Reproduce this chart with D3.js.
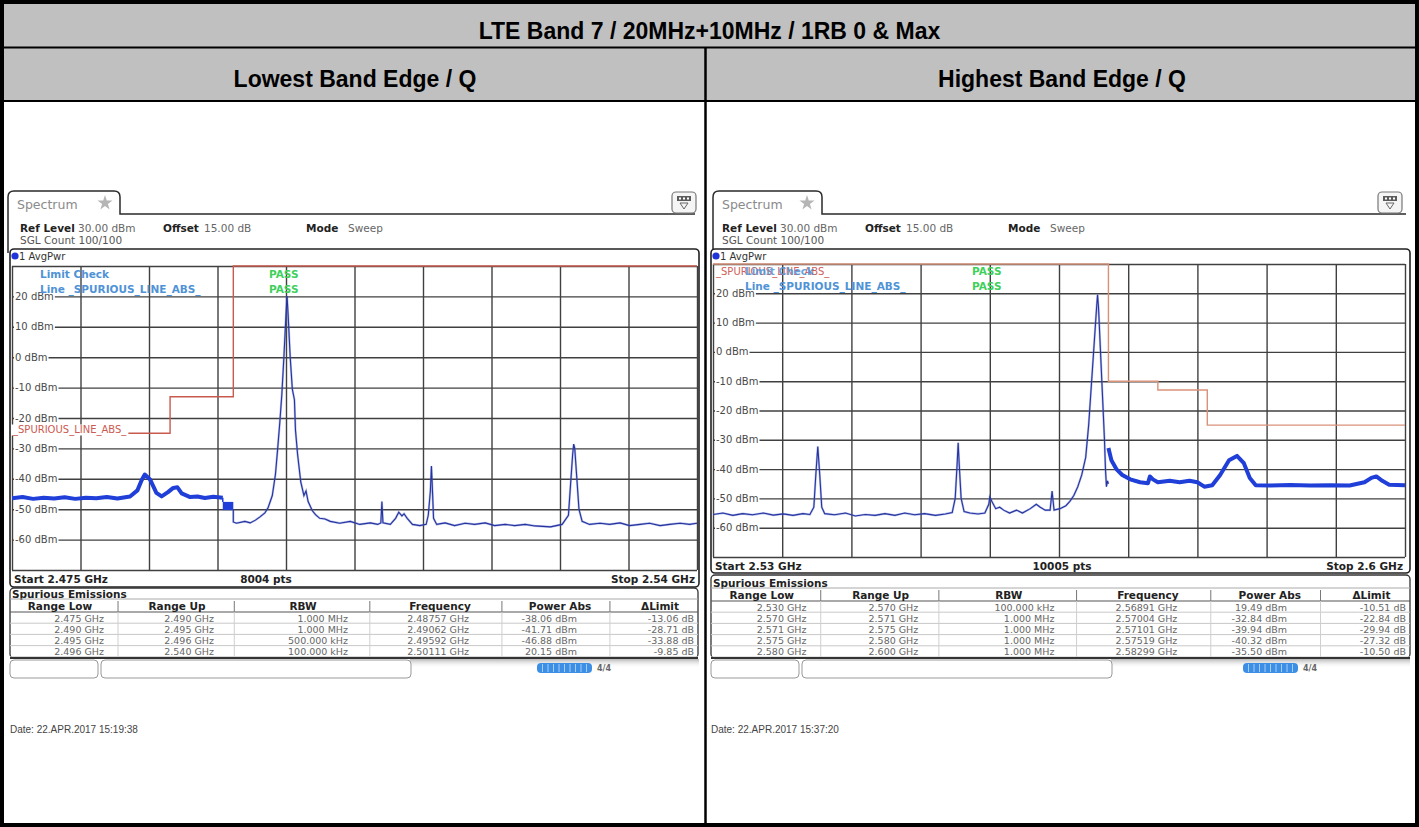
<!DOCTYPE html>
<html><head><meta charset="utf-8">
<script src="https://cdn.jsdelivr.net/npm/d3@7"></script>
<style>html,body{margin:0;padding:0;background:#fff;}svg{display:block;}</style>
</head><body>
<svg id="c" width="1419" height="827"></svg>
<script>
// ---------------- DATA ----------------
const TITLE = "LTE Band 7 / 20MHz+10MHz / 1RB 0 & Max";
const panelTitles = ["Lowest Band Edge / Q", "Highest Band Edge / Q"];
const yTickLabels = [20, 10, 0, -10, -20, -30, -40, -50, -60];
const refRange = [-70, 30];
const lowSpan = [2475, 2540];   // MHz
const hiSpan = [2530, 2600];    // MHz
const lowAxisLabels = ["Start 2.475 GHz", "8004 pts", "Stop 2.54 GHz"];
const hiAxisLabels = ["Start 2.53 GHz", "10005 pts", "Stop 2.6 GHz"];
const infoLine = ["Ref Level", "30.00 dBm", "Offset", "15.00 dB", "Mode", "Sweep"];
const countLine = "SGL Count 100/100";
const traceName = "1 AvgPwr";
const lowDate = "Date: 22.APR.2017  15:19:38";
const hiDate = "Date: 22.APR.2017  15:37:20";

// limit lines (MHz, dBm), step-after
const lowLimit = [[2475, -25], [2490, -13], [2496, 30], [2540, 30]];
const hiLimit = [[2530, 30], [2570, -10], [2575, -13], [2580, -25], [2600, -25]];

// trace: low band edge, 1 MHz RBW part
const lowWide = [[2475.0,-46.4],[2476.0,-46.0],[2477.0,-46.6],[2478.0,-46.2],[2479.0,-46.5],[2480.0,-46.1],[2481.0,-46.6],[2482.0,-46.2],[2483.0,-46.4],[2484.0,-46.0],[2485.0,-46.5],[2486.2,-45.8],[2486.9,-43.8],[2487.3,-40.5],[2487.6,-38.6],[2488.1,-40.2],[2488.7,-44.6],[2489.2,-45.8],[2489.8,-44.4],[2490.3,-43.0],[2490.7,-42.8],[2491.1,-44.8],[2491.9,-46.0],[2492.6,-45.8],[2493.3,-46.3],[2494.1,-45.9],[2495.0,-46.2]];
// 500 kHz RBW part: [MHz, high, low]
const lowMid = [[2495.0,-47.6,-50.3],[2496.0,-47.6,-50.3]];
// 100 kHz RBW part
const lowNarrow = [[2496.0,-50.0],[2496.0,-54.2],[2496.3,-54.6],[2497.1,-54.0],[2497.6,-54.5],[2498.1,-53.6],[2498.5,-52.6],[2499.0,-51.2],[2499.3,-49.5],[2499.7,-45.5],[2500.0,-38.5],[2500.2,-30.5],[2500.4,-22.0],[2500.6,-12.5],[2500.8,0.0],[2501.0,14.0],[2501.1,20.15],[2501.2,14.0],[2501.4,0.0],[2501.6,-10.5],[2501.8,-14.0],[2501.9,-24.0],[2502.1,-32.0],[2502.4,-41.0],[2502.7,-45.5],[2502.9,-44.0],[2503.1,-47.5],[2503.5,-50.5],[2503.8,-51.8],[2504.2,-53.0],[2504.7,-53.2],[2505.2,-54.0],[2506.1,-54.6],[2507.1,-54.0],[2508.0,-55.0],[2509.0,-54.5],[2509.7,-55.0],[2510.0,-54.5],[2510.1,-47.5],[2510.2,-54.5],[2510.9,-55.0],[2511.4,-53.0],[2511.7,-51.0],[2512.0,-52.2],[2512.2,-51.5],[2512.5,-53.0],[2513.0,-55.0],[2513.7,-55.4],[2514.3,-55.0],[2514.5,-52.0],[2514.7,-44.0],[2514.8,-35.8],[2514.9,-44.0],[2515.0,-53.0],[2515.3,-55.0],[2516.1,-54.5],[2517.0,-55.4],[2518.0,-54.6],[2518.9,-55.0],[2519.9,-54.5],[2520.8,-55.4],[2521.8,-55.0],[2522.7,-55.4],[2523.7,-55.0],[2524.6,-55.5],[2526.1,-55.8],[2527.2,-55.0],[2527.8,-52.0],[2528.0,-42.0],[2528.2,-32.0],[2528.3,-28.6],[2528.4,-30.0],[2528.6,-40.0],[2528.8,-50.0],[2529.1,-54.0],[2529.8,-55.0],[2530.8,-54.6],[2531.7,-55.0],[2532.7,-54.5],[2533.6,-55.4],[2534.6,-55.0],[2535.5,-54.6],[2536.5,-55.4],[2537.4,-55.0],[2538.4,-54.6],[2539.3,-55.0],[2540.0,-54.6]];

// trace: high band edge, 100 kHz RBW part
const hiNarrow = [[2530.0,-55.5],[2531.0,-55.0],[2532.0,-55.8],[2533.0,-55.2],[2534.0,-55.6],[2535.1,-55.0],[2536.1,-55.7],[2537.1,-55.3],[2538.1,-55.8],[2539.1,-55.2],[2539.8,-55.5],[2540.2,-53.0],[2540.4,-42.0],[2540.6,-32.3],[2540.8,-42.0],[2541.0,-53.0],[2541.3,-55.2],[2542.3,-55.6],[2543.4,-55.0],[2544.4,-56.0],[2545.4,-55.5],[2546.4,-55.8],[2547.4,-55.2],[2548.4,-55.8],[2549.4,-55.0],[2550.4,-55.6],[2551.4,-55.2],[2552.5,-55.8],[2553.5,-55.3],[2554.2,-54.8],[2554.5,-50.0],[2554.7,-38.0],[2554.8,-31.0],[2554.9,-38.0],[2555.1,-50.0],[2555.4,-54.5],[2556.0,-55.0],[2556.8,-55.3],[2557.5,-55.0],[2557.9,-52.0],[2558.0,-49.5],[2558.2,-51.0],[2558.6,-53.5],[2559.0,-53.0],[2559.4,-54.0],[2560.0,-55.0],[2560.7,-54.0],[2561.3,-55.0],[2562.1,-53.5],[2562.7,-52.0],[2563.1,-53.0],[2563.6,-54.0],[2564.1,-54.0],[2564.3,-47.5],[2564.5,-54.0],[2565.1,-53.5],[2565.7,-52.5],[2566.1,-51.0],[2566.5,-49.0],[2566.9,-46.0],[2567.3,-42.0],[2567.7,-36.0],[2568.0,-25.0],[2568.3,-10.0],[2568.6,5.0],[2568.8,15.0],[2568.9,19.49],[2569.0,15.0],[2569.2,0.0],[2569.4,-15.0],[2569.6,-30.0],[2569.7,-40.0],[2569.8,-46.0],[2569.9,-44.0],[2570.0,-45.0]];
// 1 MHz RBW part
const hiWide = [[2570.0,-32.8],[2570.3,-37.0],[2570.8,-40.0],[2571.4,-42.0],[2572.2,-43.5],[2573.2,-44.5],[2574.0,-44.8],[2574.2,-42.5],[2574.5,-43.5],[2575.0,-44.5],[2576.2,-44.0],[2577.2,-44.5],[2578.2,-44.0],[2579.0,-44.5],[2579.7,-46.0],[2580.5,-45.5],[2581.3,-42.0],[2582.2,-37.0],[2583.0,-35.5],[2583.7,-38.0],[2584.3,-43.0],[2584.9,-45.5],[2586.4,-45.6],[2588.4,-45.4],[2590.4,-45.6],[2592.4,-45.5],[2594.4,-45.6],[2595.9,-44.5],[2596.6,-43.0],[2597.1,-42.5],[2597.7,-44.0],[2598.4,-45.3],[2600.0,-45.5]];

// spurious emissions tables
const tableHeaders = ["Range Low", "Range Up", "RBW", "Frequency", "Power Abs", "\u0394Limit"];
const lowRangeLow = [2.475, 2.490, 2.495, 2.496];
const lowRangeUp = [2.490, 2.495, 2.496, 2.540];
const lowRBW = ["1.000 MHz", "1.000 MHz", "500.000 kHz", "100.000 kHz"];
const lowFreq = [2.48757, 2.49062, 2.49592, 2.50111];
const lowPower = [-38.06, -41.71, -46.88, 20.15];
const lowDelta = [-13.06, -28.71, -33.88, -9.85];
const hiRangeLow = [2.530, 2.570, 2.571, 2.575, 2.580];
const hiRangeUp = [2.570, 2.571, 2.575, 2.580, 2.600];
const hiRBW = ["100.000 kHz", "1.000 MHz", "1.000 MHz", "1.000 MHz", "1.000 MHz"];
const hiFreq = [2.56891, 2.57004, 2.57101, 2.57519, 2.58299];
const hiPower = [19.49, -32.84, -39.94, -40.32, -35.50];
const hiDelta = [-10.51, -22.84, -29.94, -27.32, -10.50];

// ---------------- DRAW ----------------
const W = 1419, H = 827;
const svg = d3.select("#c");
const INST = "'DejaVu Sans', Verdana, sans-serif";
const HDR = "'Liberation Sans', Arial, sans-serif";

svg.append("rect").attr("width", W).attr("height", H).attr("fill", "#fff");
svg.append("rect").attr("x", 0).attr("y", 0).attr("width", W).attr("height", 101).attr("fill", "#c0c0c0");
svg.append("text").attr("x", 709.5).attr("y", 31).attr("text-anchor", "middle")
  .attr("dominant-baseline", "central").style("font", `bold 23px ${HDR}`).attr("fill", "#000").text(TITLE);
panelTitles.forEach((t, i) => {
  svg.append("text").attr("x", i ? 1062 : 355).attr("y", 79).attr("text-anchor", "middle")
    .attr("dominant-baseline", "central").style("font", `bold 23px ${HDR}`).attr("fill", "#000").text(t);
});
svg.append("line").attr("x1", 0).attr("x2", W).attr("y1", 47.5).attr("y2", 47.5).attr("stroke", "#000").attr("stroke-width", 2);
svg.append("line").attr("x1", 0).attr("x2", W).attr("y1", 101).attr("y2", 101).attr("stroke", "#000").attr("stroke-width", 2);
svg.append("line").attr("x1", 705.5).attr("x2", 705.5).attr("y1", 47).attr("y2", H).attr("stroke", "#000").attr("stroke-width", 2.5);

const fmtG = v => v.toFixed(3) + " GHz";
const fmtF = v => v.toFixed(5) + " GHz";
const fmtP = v => v.toFixed(2) + " dBm";
const fmtD = v => v.toFixed(2) + " dB";

const panels = [
  { id: "L", ox: 0, span: lowSpan, axis: lowAxisLabels, date: lowDate, limit: lowLimit, limitColor: "#c85a4e",
    tab: [8, 120, 191], winY: 214, winX1: 699, icon: [672, 192], info: [20, 228, 240],
    box: [10, 249, 689, 338], grid: [12, 266, 697, 570], axisY: 579, ptsX: 266,
    spur: [10, 588, 688, 70], spurY: 594, tableY: 599, rowH: 11.2, bar: 660, progX: 537, dateY: 729,
    rows: lowRangeLow.map((v, i) => [fmtG(v), fmtG(lowRangeUp[i]), lowRBW[i], fmtF(lowFreq[i]), fmtP(lowPower[i]), fmtD(lowDelta[i])]),
    wide: lowWide, mid: lowMid, narrow: lowNarrow },
  { id: "R", ox: 705, span: hiSpan, axis: hiAxisLabels, date: hiDate, limit: hiLimit, limitColor: "#d9927a",
    tab: [713, 822, 191], winY: 214, winX1: 1410, icon: [1378, 192], info: [722, 228, 240],
    box: [711, 249, 699, 324], grid: [713, 264, 1405, 557], axisY: 566, ptsX: 1062,
    spur: [711, 575, 699, 83], spurY: 583, tableY: 588, rowH: 11.2, bar: 660, progX: 1243, dateY: 729,
    rows: hiRangeLow.map((v, i) => [fmtG(v), fmtG(hiRangeUp[i]), hiRBW[i], fmtF(hiFreq[i]), fmtP(hiPower[i]), fmtD(hiDelta[i])]),
    wide: hiWide, mid: null, narrow: hiNarrow }
];

function bgText(g, x, y, str, font, fill, anchor, bgPad) {
  const t = g.append("text").attr("x", x).attr("y", y).attr("dominant-baseline", "central")
    .attr("text-anchor", anchor || "start").style("font", font).attr("fill", fill).text(str);
  if (bgPad) {
    const b = t.node().getBBox();
    g.insert("rect", () => t.node()).attr("x", b.x - bgPad[0]).attr("y", b.y + bgPad[1])
      .attr("width", b.width + 2 * bgPad[0]).attr("height", b.height - bgPad[1]).attr("fill", "#fff");
  }
  return t;
}

panels.forEach(p => {
  const g = svg.append("g");
  const [gx0, gy0, gx1, gy1] = p.grid;
  const x = d3.scaleLinear().domain(p.span).range([gx0, gx1]);
  const y = d3.scaleLinear().domain(refRange).range([gy1, gy0]);

  // window frame + tab
  const [tx0, tx1, ty] = p.tab;
  g.append("path").attr("d", `M${tx0},${p.box[1] + 4} L${tx0},${ty + 6} Q${tx0},${ty} ${tx0 + 6},${ty} L${tx1 - 6},${ty} Q${tx1},${ty} ${tx1},${ty + 6} L${tx1},${p.winY} L${p.winX1 - 4},${p.winY}`)
    .attr("fill", "none").attr("stroke", "#2a2a2a").attr("stroke-width", 1.5);
  g.append("text").attr("x", tx0 + 9).attr("y", ty + 13).attr("dominant-baseline", "central")
    .style("font", `12.5px ${INST}`).attr("fill", "#8a8a8a").text("Spectrum");
  g.append("path").attr("d", d3.symbol(d3.symbolStar, 70)()).attr("transform", `translate(${tx1 - 15},${ty + 12})`).attr("fill", "#b5b5b5");

  // icon top right
  const [ix, iy] = p.icon;
  g.append("rect").attr("x", ix).attr("y", iy).attr("width", 24).attr("height", 21).attr("rx", 4)
    .attr("fill", "#f5f5f5").attr("stroke", "#777").attr("stroke-width", 1.2);
  g.append("rect").attr("x", ix + 5).attr("y", iy + 4).attr("width", 14).attr("height", 5).attr("fill", "#5a5a5a");
  [0, 1, 2].forEach(k => g.append("rect").attr("x", ix + 7 + k * 4).attr("y", iy + 5.5).attr("width", 2).attr("height", 2).attr("fill", "#fff"));
  g.append("path").attr("d", `M${ix + 8},${iy + 11} L${ix + 16},${iy + 11} L${ix + 12},${iy + 17} Z`).attr("fill", "none").attr("stroke", "#666");

  // info lines
  const [ifx, ify1, ify2] = p.info;
  const infoOff = [0, 58, 143, 184, 286, 328];
  infoLine.forEach((s, k) => {
    g.append("text").attr("x", ifx + infoOff[k]).attr("y", ify1).attr("dominant-baseline", "central")
      .style("font", `${k % 2 === 0 ? "bold " : ""}10.5px ${INST}`).attr("fill", k % 2 === 0 ? "#222" : "#666").text(s);
  });
  g.append("text").attr("x", ifx).attr("y", ify2).attr("dominant-baseline", "central")
    .style("font", `10.5px ${INST}`).attr("fill", "#555").text(countLine);

  // plot box
  const [bx, by, bw, bh] = p.box;
  g.append("rect").attr("x", bx).attr("y", by).attr("width", bw).attr("height", bh).attr("rx", 4).attr("fill", "#fff");

  // trace name row
  g.append("circle").attr("cx", bx + 5).attr("cy", by + 7).attr("r", 3.6).attr("fill", "#1f35d8");
  g.append("text").attr("x", bx + 9).attr("y", by + 7).attr("dominant-baseline", "central")
    .style("font", `10px ${INST}`).attr("fill", "#333").text(traceName);

  // grid via axes
  const xt = d3.range(11).map(i => p.span[0] + i * (p.span[1] - p.span[0]) / 10);
  const gxAxis = g.append("g").attr("transform", `translate(0,${gy1})`)
    .call(d3.axisBottom(x).tickValues(xt).tickSize(-(gy1 - gy0)).tickFormat(""));
  const gyAxis = g.append("g").attr("transform", `translate(${gx0},0)`)
    .call(d3.axisLeft(y).tickValues(d3.range(refRange[0], refRange[1] + 1, 10)).tickSize(-(gx1 - gx0)).tickFormat(""));
  [gxAxis, gyAxis].forEach(a => { a.select(".domain").remove(); a.selectAll("line").attr("stroke", "#404040").attr("stroke-width", 1.4); });

  // y labels with white background
  yTickLabels.forEach(v => bgText(g, gx0 + 3, y(v), `${v} dBm`, `10px ${INST}`, "#4a4a4a", "start", [1, 2]));

  // clip
  const cid = "clip" + p.id;
  g.append("clipPath").attr("id", cid).append("rect").attr("x", gx0).attr("y", gy0 - 1).attr("width", gx1 - gx0).attr("height", gy1 - gy0 + 1);
  const pl = g.append("g").attr("clip-path", `url(#${cid})`);

  // limit line
  const lim = d3.line().x(d => x(d[0])).y(d => y(d[1])).curve(d3.curveStepAfter);
  pl.append("path").attr("d", lim(p.limit)).attr("fill", "none").attr("stroke", p.limitColor).attr("stroke-width", 1.4);

  // traces
  const ln = d3.line().x(d => x(d[0])).y(d => y(d[1]));
  pl.append("path").attr("d", ln(p.wide)).attr("fill", "none").attr("stroke", "#1f3fd8").attr("stroke-width", 4).attr("stroke-linejoin", "round");
  if (p.mid) {
    const ar = d3.area().x(d => x(d[0])).y0(d => y(d[2])).y1(d => y(d[1]));
    pl.append("path").attr("d", ar(p.mid)).attr("fill", "#1f3fd8");
    pl.append("line").attr("x1", x(p.wide[p.wide.length - 1][0])).attr("x2", x(p.mid[0][0]))
      .attr("y1", y(p.wide[p.wide.length - 1][1])).attr("y2", y(p.mid[0][1])).attr("stroke", "#1f3fd8").attr("stroke-width", 1.5);
  }
  pl.append("path").attr("d", ln(p.narrow)).attr("fill", "none").attr("stroke", "#5b6fd0").attr("stroke-width", 2.2).attr("stroke-opacity", 0.45);
  pl.append("path").attr("d", ln(p.narrow)).attr("fill", "none").attr("stroke", "#26339e").attr("stroke-width", 1.1);

  // annotations
  const annFont = `bold 10.5px ${INST}`;
  if (p.id === "L") {
    g.append("text").attr("x", 40).attr("y", 274).attr("dominant-baseline", "central").style("font", annFont).attr("fill", "#4f93d6").text("Limit Check");
    g.append("text").attr("x", 40).attr("y", 289).attr("dominant-baseline", "central").style("font", annFont).attr("fill", "#4f93d6").text("Line _SPURIOUS_LINE_ABS_");
    g.append("text").attr("x", 269).attr("y", 274).attr("dominant-baseline", "central").style("font", annFont).attr("fill", "#3fcf5c").text("PASS");
    g.append("text").attr("x", 269).attr("y", 289).attr("dominant-baseline", "central").style("font", annFont).attr("fill", "#3fcf5c").text("PASS");
    bgText(g, 13, 429, "_SPURIOUS_LINE_ABS_", `10px ${INST}`, "#cc5a50", "start", [1, 1]);
  } else {
    g.append("text").attr("x", 716).attr("y", 271).attr("dominant-baseline", "central").style("font", `10px ${INST}`).attr("fill", "#d0605a").text("_SPURIOUS_LINE_ABS_");
    g.append("text").attr("x", 745).attr("y", 271).attr("dominant-baseline", "central").style("font", annFont).attr("fill", "#4f93d6").attr("fill-opacity", 0.85).text("Limit Check");
    g.append("text").attr("x", 745).attr("y", 286).attr("dominant-baseline", "central").style("font", annFont).attr("fill", "#4f93d6").text("Line _SPURIOUS_LINE_ABS_");
    g.append("text").attr("x", 972).attr("y", 271).attr("dominant-baseline", "central").style("font", annFont).attr("fill", "#3fcf5c").text("PASS");
    g.append("text").attr("x", 972).attr("y", 286).attr("dominant-baseline", "central").style("font", annFont).attr("fill", "#3fcf5c").text("PASS");
  }

  // box border on top
  g.append("rect").attr("x", bx).attr("y", by).attr("width", bw).attr("height", bh).attr("rx", 4)
    .attr("fill", "none").attr("stroke", "#222").attr("stroke-width", 1.6);

  // start / pts / stop
  const axFont = `bold 10.5px ${INST}`;
  g.append("text").attr("x", gx0 + 2).attr("y", p.axisY).attr("dominant-baseline", "central").style("font", axFont).attr("fill", "#222").text(p.axis[0]);
  g.append("text").attr("x", p.ptsX).attr("y", p.axisY).attr("text-anchor", "middle").attr("dominant-baseline", "central").style("font", axFont).attr("fill", "#222").text(p.axis[1]);
  g.append("text").attr("x", gx1 - 2).attr("y", p.axisY).attr("text-anchor", "end").attr("dominant-baseline", "central").style("font", axFont).attr("fill", "#222").text(p.axis[2]);

  // spurious emissions section
  const [sx, sy, sw, sh] = p.spur;
  g.append("rect").attr("x", sx).attr("y", sy).attr("width", sw).attr("height", sh).attr("rx", 4).attr("fill", "#fff").attr("stroke", "#333").attr("stroke-width", 1.3);
  g.append("text").attr("x", sx + 2).attr("y", p.spurY).attr("dominant-baseline", "central").style("font", `bold 10.5px ${INST}`).attr("fill", "#222").text("Spurious Emissions");

  const sep = [0, .157, .326, .523, .715, .872, 1].map(f => sx + f * sw);
  const hc = [.0727, .2427, .4259, .625, .7994, .9448].map(f => sx + f * sw);
  const ve = [.1366, .2965, .4913, .6672, .8241, .9942].map(f => sx + f * sw);
  const ty0 = p.tableY, rh = p.rowH;
  g.append("line").attr("x1", sx).attr("x2", sx + sw).attr("y1", ty0).attr("y2", ty0).attr("stroke", "#aaa");
  g.append("line").attr("x1", sx).attr("x2", sx + sw).attr("y1", ty0 + 13).attr("y2", ty0 + 13).attr("stroke", "#555").attr("stroke-width", 1.2);
  sep.slice(1, 6).forEach(sxp => g.append("line").attr("x1", sxp).attr("x2", sxp).attr("y1", ty0 + 2).attr("y2", ty0 + 13).attr("stroke", "#777"));
  tableHeaders.forEach((h, k) => g.append("text").attr("x", hc[k]).attr("y", ty0 + 7).attr("text-anchor", "middle")
    .attr("dominant-baseline", "central").style("font", `bold 10.5px ${INST}`).attr("fill", "#222").text(h));
  p.rows.forEach((r, i) => {
    const ry = ty0 + 13 + i * rh;
    g.append("line").attr("x1", sx).attr("x2", sx + sw).attr("y1", ry + rh).attr("y2", ry + rh).attr("stroke", "#c8c8c8");
    sep.slice(1, 6).forEach(sxp => g.append("line").attr("x1", sxp).attr("x2", sxp).attr("y1", ry).attr("y2", ry + rh).attr("stroke", "#cfcfcf"));
    r.forEach((c, k) => g.append("text").attr("x", ve[k]).attr("y", ry + rh / 2 + 0.5).attr("text-anchor", "end")
      .attr("dominant-baseline", "central").style("font", `9.5px ${INST}`).attr("fill", "#666").text(c));
  });
  g.append("line").attr("x1", sx).attr("x2", sx + sw).attr("y1", sy + sh).attr("y2", sy + sh).attr("stroke", "#333").attr("stroke-width", 2);

  // bottom bar
  const bb = p.bar;
  const grad = svg.append("defs").append("linearGradient").attr("id", "sh" + p.id).attr("x1", 0).attr("x2", 0).attr("y1", 0).attr("y2", 1);
  grad.append("stop").attr("offset", 0).attr("stop-color", "#888").attr("stop-opacity", 0.6);
  grad.append("stop").attr("offset", 1).attr("stop-color", "#fff").attr("stop-opacity", 0);
  g.append("rect").attr("x", bx + 400).attr("y", sy + sh + 1).attr("width", bw - 400).attr("height", 9).attr("fill", `url(#sh${p.id})`);
  g.append("rect").attr("x", bx).attr("y", bb).attr("width", 88).attr("height", 18).attr("rx", 4).attr("fill", "#fff").attr("stroke", "#999");
  g.append("rect").attr("x", bx + 91).attr("y", bb).attr("width", 310).attr("height", 18).attr("rx", 4).attr("fill", "#fff").attr("stroke", "#999");
  g.append("rect").attr("x", p.progX).attr("y", bb + 3).attr("width", 55).attr("height", 10).attr("rx", 4).attr("fill", "#3c8fe4");
  d3.range(1, 10).forEach(k => g.append("line").attr("x1", p.progX + k * 5.5).attr("x2", p.progX + k * 5.5).attr("y1", bb + 4).attr("y2", bb + 12).attr("stroke", "#bcdcff").attr("stroke-width", 0.8));
  g.append("text").attr("x", p.progX + 60).attr("y", bb + 8).attr("dominant-baseline", "central").style("font", `bold 8px ${INST}`).attr("fill", "#666").text("4/4");

  // date
  g.append("text").attr("x", bx).attr("y", p.dateY).attr("dominant-baseline", "central").style("font", `10px ${HDR}`).attr("fill", "#444").text(p.date);
});

svg.append("rect").attr("x", 2).attr("y", 2).attr("width", W - 4).attr("height", H - 4).attr("fill", "none").attr("stroke", "#000").attr("stroke-width", 4);
</script>
</body></html>
